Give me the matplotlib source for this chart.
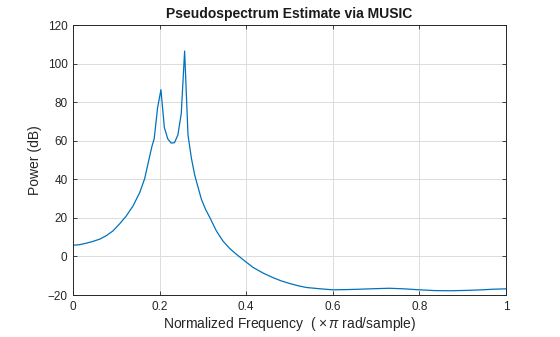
import matplotlib
matplotlib.use("Agg")
import matplotlib.pyplot as plt

plt.rcParams['font.family'] = ['Liberation Sans', 'DejaVu Sans']
plt.rcParams['mathtext.fontset'] = 'custom'
plt.rcParams['mathtext.rm'] = 'Liberation Sans'
plt.rcParams['mathtext.it'] = 'Liberation Sans:italic'

# normalized frequency (x pi rad/sample) and pseudospectrum in dB
freq = [0, 0.015, 0.031, 0.046, 0.062, 0.077, 0.092, 0.108, 0.123, 0.1386,
        0.154, 0.1656, 0.1755, 0.1825, 0.1875, 0.1953, 0.2031, 0.2109, 0.2188,
        0.2266, 0.2344, 0.2422, 0.25, 0.2578, 0.2656, 0.2734, 0.2813, 0.2965,
        0.306, 0.316, 0.331, 0.346, 0.362, 0.377, 0.393, 0.416, 0.439,
        0.462, 0.48, 0.5, 0.52, 0.539, 0.577, 0.6, 0.63, 0.662, 0.7,
        0.731, 0.765, 0.8, 0.835, 0.87, 0.91, 0.946, 0.97, 1.0]
power_db = [5.8, 6.1, 6.9, 7.8, 9.0, 10.8, 13.2, 17.0, 21.0, 26.2,
            33.1, 40.4, 50.4, 57.3, 61.0, 77, 86.5, 67, 61,
            58.8, 59, 63, 74, 106.5, 63, 51, 42, 29.7,
            24.5, 20.2, 13.3, 8.1, 4.1, 1.2, -1.7, -5.7, -8.6,
            -11.0, -12.6, -14.0, -15.2, -16.1, -16.9, -17.3, -17.2, -17.0, -16.7,
            -16.5, -16.8, -17.3, -17.7, -17.8, -17.6, -17.3, -17.0, -16.8]

xticks = [0, 0.2, 0.4, 0.6, 0.8, 1]
xticklabels = ['0', '0.2', '0.4', '0.6', '0.8', '1']
yticks = [-20, 0, 20, 40, 60, 80, 100, 120]

fig = plt.figure(figsize=(5.6, 3.37), dpi=100)
ax = fig.add_axes([0.1304, 0.1246, 0.773, 0.801])

ax.plot(freq, power_db, color=(0, 0.447, 0.741), lw=0.9)

ax.set_xlim(0, 1)
ax.set_ylim(-20, 120)
ax.set_xticks(xticks)
ax.set_xticklabels(xticklabels)
ax.set_yticks(yticks)
ax.grid(True, color='#dcdcdc', lw=0.7)
ax.set_axisbelow(True)
ax.tick_params(direction='in', length=3, width=0.6, top=True, right=True,
               labelsize=8.5, colors='#262626', pad=4)
for s in ax.spines.values():
    s.set_linewidth(0.7)
    s.set_color('#262626')

ax.set_xlabel('Normalized Frequency  ( $\\times\\,\\pi$ rad/sample)', fontsize=10, color='#262626', labelpad=2)
ax.set_ylabel('Power (dB)', fontsize=10, color='#262626', labelpad=4)
ax.set_title('Pseudospectrum Estimate via MUSIC', fontsize=10, fontweight='bold', color='#1a1a1a', pad=5)

fig.savefig('out.png', dpi=100)
